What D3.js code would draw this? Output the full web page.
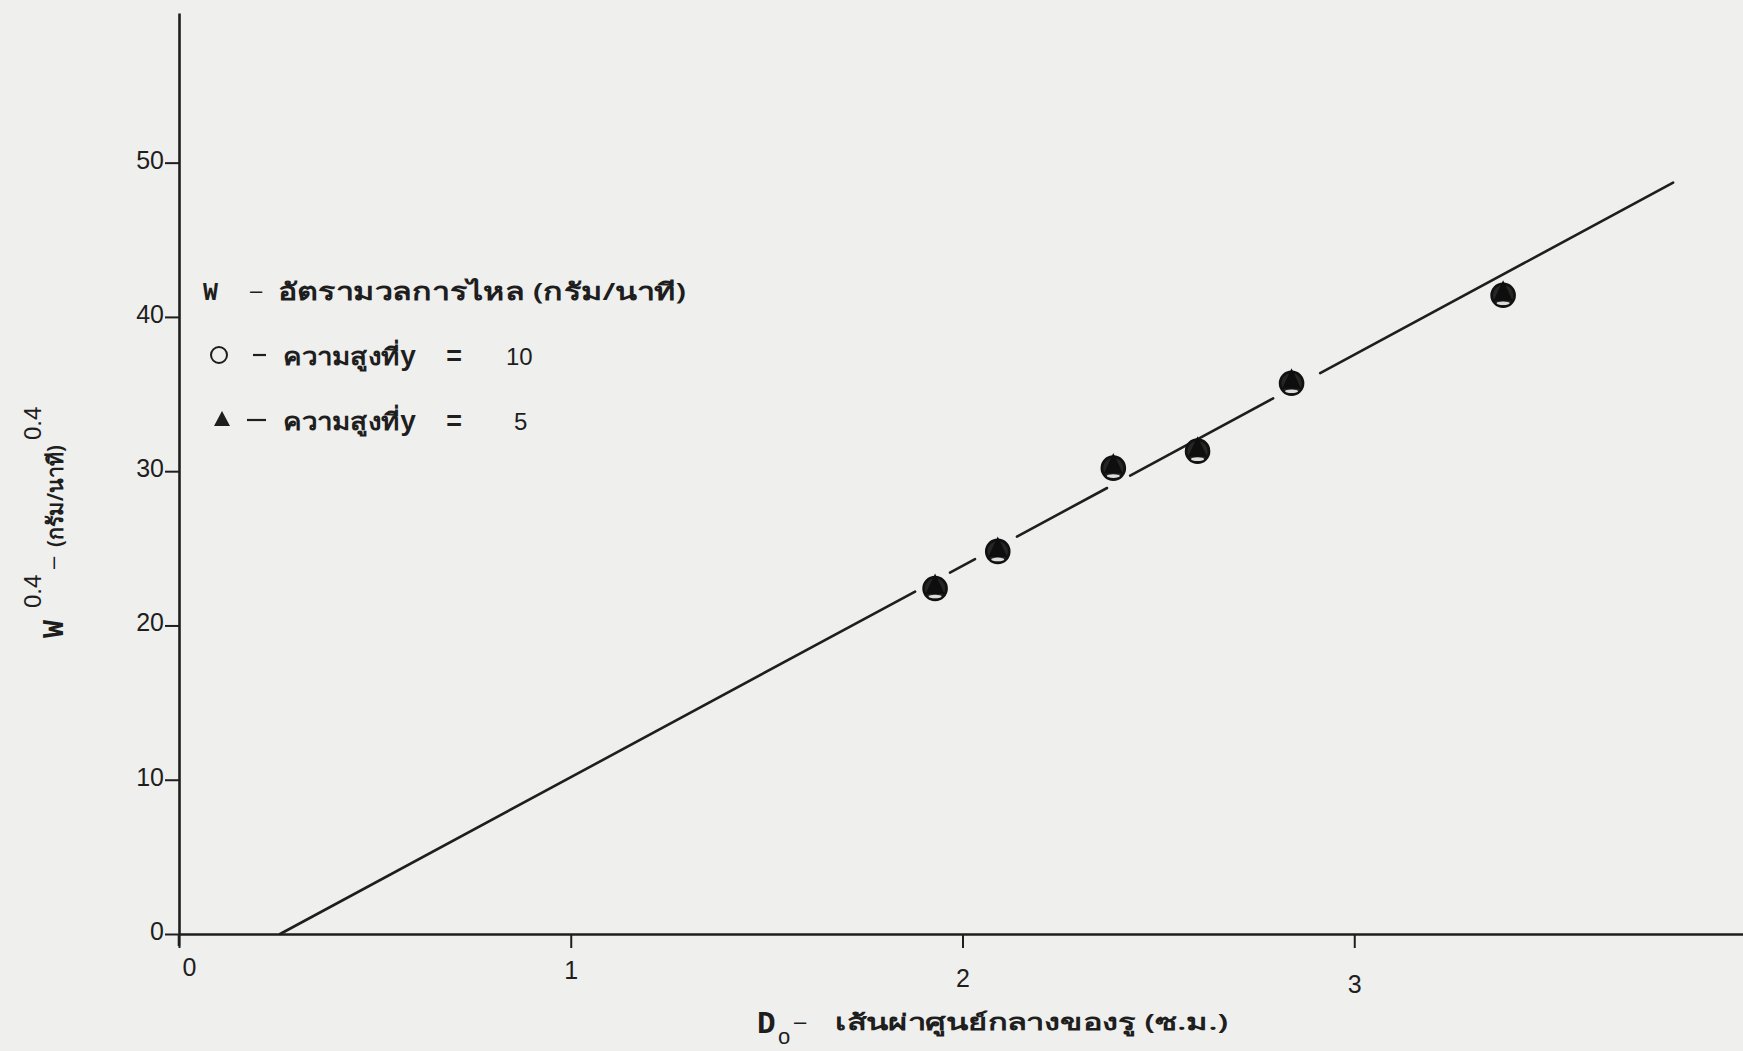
<!DOCTYPE html>
<html>
<head>
<meta charset="utf-8">
<script src="https://cdn.jsdelivr.net/npm/d3@7"></script>
<style>
    body { margin: 0; background: #efefed; }
    svg { display: block; }
    svg text { fill: #1e1e1e; }
</style>
</head>
<body>
<div id="graph"></div>
<script>
// values
var xTicks = [0, 1, 2, 3];
var yTicks = [0, 10, 20, 30, 40, 50];
var diameters = [1.93, 2.09, 2.385, 2.60, 2.84, 3.38];
var flowAtY10 = [22.4, 24.8, 30.2, 31.3, 35.7, 41.4];
var flowAtY5 = [22.4, 24.8, 30.2, 31.3, 35.7, 41.4];
var fitX = [0.258, 3.814];
var fitY = [0, 48.7];
// the drawn line is broken around some of the points
var fitGaps = [[1.879, 1.968], [2.032, 2.139], [2.369, 2.428], [2.793, 2.913]];
var legendTitle = ['W', '–', 'อัตรามวลการไหล (กรัม/นาที)'];
var legendHeights = ['10', '5'];
var xTitle = ['D', 'o', '–', 'เส้นผ่าศูนย์กลางของรู (ซ.ม.)'];
var yTitle = ['W', '0.4', '–', '(กรัม/นาที)', '0.4'];

var ink = '#1e1e1e';
var numFont = '"Liberation Sans", Arial, sans-serif';
var typeFont = '"Liberation Mono", "DejaVu Sans Mono", "Noto Sans", monospace';
var thaiFont = '"Noto Sans", "DejaVu Sans", sans-serif';

var svg = d3.select('#graph').append('svg')
    .attr('width', 1743)
    .attr('height', 1051);

var xScale = d3.scaleLinear().domain([0, 4]).range([179, 1746]);
var yScale = d3.scaleLinear().domain([0, 59.7]).range([934, 13]);

drawAxes();
drawFitLine();
drawPoints();
drawLegend();
drawTitles();

function drawAxes() {
    // the typed tick labels sit a bit lower going right
    var labelDrop = [0, 3, 11, 17];
    var xAxis = d3.axisBottom(xScale).tickValues(xTicks).tickSize(14)
        .tickSizeOuter(0).tickPadding(10).tickFormat(d3.format('d'));
    var gx = svg.append('g')
        .attr('transform', 'translate(0,' + yScale(0) + ')')
        .call(xAxis);
    gx.selectAll('text')
        .attr('dx', function(d) { return d === 0 ? 10 : 0; })
        .attr('y', function(d, i) { return 24 + labelDrop[i]; });

    var yAxis = d3.axisLeft(yScale).tickValues(yTicks).tickSize(14)
        .tickSizeOuter(0).tickPadding(1);
    var gy = svg.append('g')
        .attr('transform', 'translate(' + xScale(0) + ',0)')
        .call(yAxis);
    gy.selectAll('text').attr('dy', '0.22em');

    [gx, gy].forEach(function(g) {
        g.attr('font-family', numFont).attr('font-size', 25);
        g.select('.domain').attr('stroke', ink).attr('stroke-width', 2.6);
        g.selectAll('.tick line').attr('stroke', ink).attr('stroke-width', 2);
        g.selectAll('text').attr('fill', ink);
    });

    // y axis pokes a little below the x axis
    svg.append('line')
        .attr('x1', xScale(0)).attr('x2', xScale(0))
        .attr('y1', yScale(0)).attr('y2', yScale(0) + 12)
        .attr('stroke', ink).attr('stroke-width', 2.6);
}

function fitAt(x) {
    return fitY[0] + (x - fitX[0]) * (fitY[1] - fitY[0]) / (fitX[1] - fitX[0]);
}

function drawFitLine() {
    var stops = [fitX[0]];
    fitGaps.forEach(function(g) { stops.push(g[0], g[1]); });
    stops.push(fitX[1]);
    var segs = [];
    for (var i = 0; i < stops.length; i += 2) {
        segs.push([stops[i], stops[i + 1]]);
    }
    svg.append('g').selectAll('line').data(segs).enter().append('line')
        .attr('x1', function(d) { return xScale(d[0]); })
        .attr('y1', function(d) { return yScale(fitAt(d[0])); })
        .attr('x2', function(d) { return xScale(d[1]); })
        .attr('y2', function(d) { return yScale(fitAt(d[1])); })
        .attr('stroke', ink)
        .attr('stroke-width', 2.6)
        .attr('stroke-linecap', 'round');
}

function drawPoints() {
    var circles = diameters.map(function(d, i) { return { x: d, y: flowAtY10[i] }; });
    var triangles = diameters.map(function(d, i) { return { x: d, y: flowAtY5[i] }; });

    svg.append('g').selectAll('circle').data(circles).enter().append('circle')
        .attr('cx', function(d) { return xScale(d.x); })
        .attr('cy', function(d) { return yScale(d.y); })
        .attr('r', 11.5)
        .attr('fill', '#262626')
        .attr('stroke', '#111')
        .attr('stroke-width', 2.6);

    var tri = svg.append('g').selectAll('g').data(triangles).enter().append('g')
        .attr('transform', function(d) { return 'translate(' + xScale(d.x) + ',' + yScale(d.y) + ')'; });
    tri.append('path')
        .attr('d', 'M0,-15 L9.5,5.5 L-9.5,5.5 Z')
        .attr('fill', '#0e0e0e');
    tri.append('ellipse')
        .attr('cx', 0).attr('cy', 8)
        .attr('rx', 6.5).attr('ry', 1.8)
        .attr('fill', '#dcdcda');
}

function drawLegend() {
    var g = svg.append('g');
    g.append('text').attr('x', 203).attr('y', 300)
        .attr('font-family', typeFont).attr('font-size', 25).attr('font-weight', 'bold')
        .text(legendTitle[0]);
    g.append('text').attr('x', 250).attr('y', 298)
        .attr('font-family', numFont).attr('font-size', 22)
        .text(legendTitle[1]);
    g.append('text').attr('x', 278).attr('y', 300)
        .attr('font-family', thaiFont).attr('font-size', 24).attr('font-weight', 600)
        .attr('textLength', 408).attr('lengthAdjust', 'spacingAndGlyphs')
        .text(legendTitle[2]);

    var rowY = [365, 430];
    g.append('circle').attr('cx', 219).attr('cy', 355).attr('r', 8)
        .attr('fill', 'none').attr('stroke', ink).attr('stroke-width', 2);
    g.append('path').attr('d', 'M222,411 L230,426 L214,426 Z').attr('fill', ink);

    legendHeights.forEach(function(h, i) {
        var y = rowY[i];
        g.append('line').attr('x1', i === 0 ? 253 : 247).attr('x2', 266)
            .attr('y1', y - 10).attr('y2', y - 10)
            .attr('stroke', ink).attr('stroke-width', 2.2);
        g.append('text').attr('x', 283).attr('y', y)
            .attr('font-family', thaiFont).attr('font-size', 24).attr('font-weight', 600)
            .attr('textLength', 117).attr('lengthAdjust', 'spacingAndGlyphs')
            .text('ความสูงที่');
        g.append('text').attr('x', 400).attr('y', y)
            .attr('font-family', typeFont).attr('font-size', 27).attr('font-weight', 'bold')
            .text('y');
        g.append('text').attr('x', 446).attr('y', y)
            .attr('font-family', typeFont).attr('font-size', 27).attr('font-weight', 'bold')
            .text('=');
        g.append('text').attr('x', i === 0 ? 506 : 514).attr('y', y)
            .attr('font-family', numFont).attr('font-size', 24)
            .text(h);
    });
}

function drawTitles() {
    var xt = svg.append('g');
    xt.append('text').attr('x', 757).attr('y', 1033)
        .attr('font-family', typeFont).attr('font-size', 31).attr('font-weight', 'bold')
        .text(xTitle[0]);
    xt.append('text').attr('x', 778).attr('y', 1044)
        .attr('font-family', numFont).attr('font-size', 22).text(xTitle[1]);
    xt.append('text').attr('x', 794).attr('y', 1029)
        .attr('font-family', numFont).attr('font-size', 22).text(xTitle[2]);
    xt.append('text').attr('x', 835).attr('y', 1030)
        .attr('font-family', thaiFont).attr('font-size', 22).attr('font-weight', 600)
        .attr('textLength', 393).attr('lengthAdjust', 'spacingAndGlyphs')
        .text(xTitle[3]);

    // rotated y title, read from the bottom up
    var yt = svg.append('g').attr('transform', 'translate(63,0) rotate(-90)');
    yt.append('text').attr('x', -638).attr('y', 0)
        .attr('font-family', typeFont).attr('font-size', 30).attr('font-weight', 'bold')
        .text(yTitle[0]);
    yt.append('text').attr('x', -608).attr('y', -22)
        .attr('font-family', numFont).attr('font-size', 24).text(yTitle[1]);
    yt.append('text').attr('x', -569).attr('y', -3)
        .attr('font-family', numFont).attr('font-size', 22).text(yTitle[2]);
    yt.append('text').attr('x', -547).attr('y', 0)
        .attr('font-family', thaiFont).attr('font-size', 22).attr('font-weight', 600)
        .attr('textLength', 102).attr('lengthAdjust', 'spacingAndGlyphs')
        .text(yTitle[3]);
    yt.append('text').attr('x', -440).attr('y', -22)
        .attr('font-family', numFont).attr('font-size', 24).text(yTitle[4]);
}
</script>
</body>
</html>
